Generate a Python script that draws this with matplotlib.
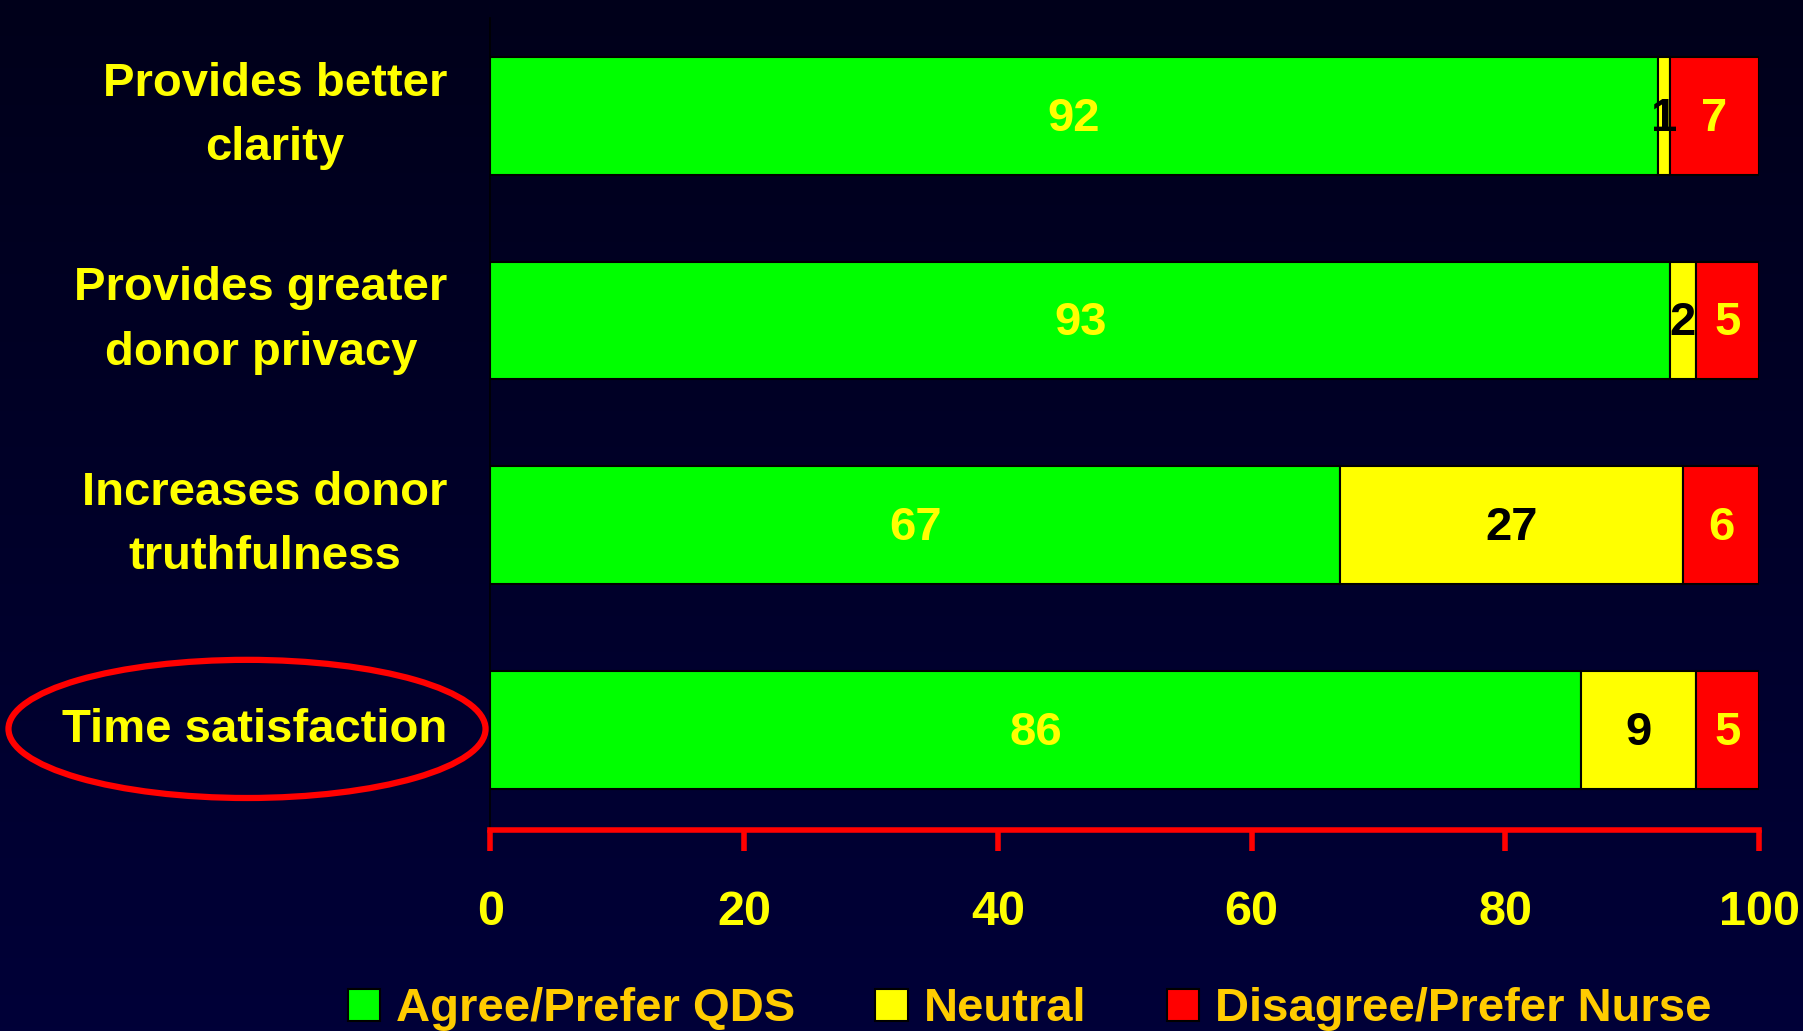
import matplotlib.pyplot as plt
import matplotlib
import numpy as np
from matplotlib.patches import Ellipse
from matplotlib.colors import LinearSegmentedColormap

matplotlib.rcParams['font.family'] = ['Liberation Sans Narrow', 'Liberation Sans', 'DejaVu Sans']
matplotlib.rcParams['font.weight'] = 'bold'

# Data
categories = ['Provides better\nclarity', 'Provides greater\ndonor privacy',
              'Increases donor\ntruthfulness', 'Time satisfaction']
agree = [92, 93, 67, 86]
neutral = [1, 2, 27, 9]
disagree = [7, 5, 6, 5]
series_names = ['Agree/Prefer QDS', 'Neutral', 'Disagree/Prefer Nurse']
x_ticks = [0, 20, 40, 60, 80, 100]

fig = plt.figure(figsize=(18.03, 10.31), dpi=100)

# dark navy gradient background
bg = fig.add_axes([0, 0, 1, 1], zorder=-10)
cmap = LinearSegmentedColormap.from_list('bg', ['#00001a', '#000038'])
bg.imshow(np.linspace(0, 1, 256).reshape(-1, 1), aspect='auto', cmap=cmap,
          extent=[0, 1, 0, 1])
bg.axis('off')

ax = fig.add_axes([0.272, 0.195, 0.7036, 0.788])
ax.set_facecolor('none')

y = np.arange(len(categories))[::-1]
colors = ['#00ff00', '#ffff00', '#ff0000']
text_colors = ['#ffff00', 'black', '#ffff00']
left = np.zeros(len(categories))
for vals, c, tc, name in zip([agree, neutral, disagree], colors, text_colors, series_names):
    ax.barh(y, vals, left=left, height=0.575, color=c, edgecolor='black',
            linewidth=1.5, label=name)
    for yi, l, v in zip(y, left, vals):
        ax.text(l + v / 2, yi - 0.015, str(v), ha='center', va='center',
                fontsize=34, color=tc, fontweight='bold')
    left = left + np.array(vals)

ax.set_xlim(0, 100)
ax.set_ylim(-0.49, 3.48)
ax.set_yticks(y)
ax.set_yticklabels(categories)
for t in ax.get_yticklabels():
    t.set_multialignment('center')
    t.set_linespacing(1.6)
    t.set_verticalalignment('center')
ax.tick_params(axis='y', length=0, pad=31, labelsize=34, labelcolor='#ffff00')
ax.set_xticks(x_ticks)
ax.tick_params(axis='x', direction='out', length=15, width=4, color='#ff0000',
               pad=28, labelsize=35, labelcolor='#ffff00')

for s in ['top', 'right']:
    ax.spines[s].set_visible(False)
ax.spines['bottom'].set_color('#ff0000')
ax.spines['bottom'].set_linewidth(4)
ax.spines['left'].set_color('black')
ax.spines['left'].set_linewidth(1.2)

# red ellipse around the last label
fig.patches.append(Ellipse((0.137, 0.293), 0.2646, 0.134, transform=fig.transFigure,
                           fill=False, edgecolor='#ff0000', linewidth=4.5))

leg = fig.legend(loc='center', bbox_to_anchor=(0.571, 0.021), ncol=3, frameon=False,
                 fontsize=34, handlelength=0.68, handleheight=0.68,
                 handletextpad=0.34, columnspacing=1.7)
for t in leg.get_texts():
    t.set_color('#ffcc00')

plt.savefig('out.png', dpi=100)
